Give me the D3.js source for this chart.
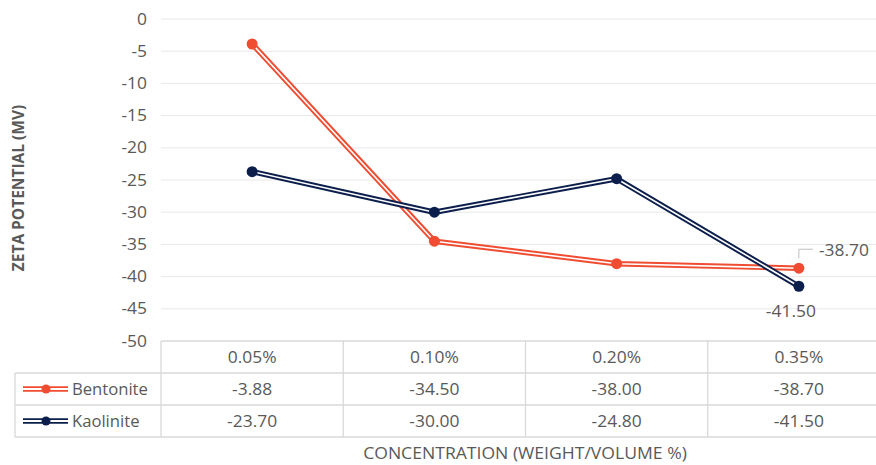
<!DOCTYPE html>
<html>
<head>
<meta charset="utf-8">
<script src="https://cdn.jsdelivr.net/npm/d3@7"></script>
<style>
  html, body { margin: 0; padding: 0; background: #fff; }
  svg { display: block; overflow: hidden; }
  text { font-family: "Open Sans", Lato, sans-serif; fill: #595959; }
</style>
</head>
<body>
<div id="chart"></div>
<script>
// Zeta potential by concentration
const categories = ["0.05%", "0.10%", "0.20%", "0.35%"];
const seriesNames = ["Bentonite", "Kaolinite"];
const bentonite = [-3.88, -34.50, -38.00, -38.70];
const kaolinite = [-23.70, -30.00, -24.80, -41.50];
const yTicks = [0, -5, -10, -15, -20, -25, -30, -35, -40, -45, -50];
const seriesColors = ["#EF4C32", "#0C1F4C"];

const W = 876, H = 465;
const plot = { left: 161, right: 890, top: 19, bottom: 341 };
const rowH = 32;
const FS = 16;   // label font size
const SX = 1.09; // slight horizontal widening of the label face

// plain hyphen-minus for negative numbers
const locale = d3.formatLocale({ decimal: ".", thousands: ",", grouping: [3], currency: ["", ""], minus: "-" });
const fmt2 = locale.format(".2f");
const fmtInt = locale.format("d");

// move x/y into a transform so the glyphs can be widened around their anchor
function widen(sel, sx) {
  sel.each(function () {
    const t = d3.select(this);
    const tx = +t.attr("x") || 0, ty = +t.attr("y") || 0;
    t.attr("x", 0).attr("y", 0).attr("transform", `translate(${tx},${ty}) scale(${sx},1)`);
  });
}

const svg = d3.select("#chart").append("svg")
  .attr("width", W).attr("height", H);

const x = d3.scaleBand().domain(categories).range([plot.left, plot.right]);
const y = d3.scaleLinear().domain([-50, 0]).range([plot.bottom, plot.top]);

// horizontal gridlines
svg.append("g").selectAll("line").data(yTicks.filter(d => d !== -50)).join("line")
  .attr("x1", plot.left).attr("x2", plot.right)
  .attr("y1", d => y(d)).attr("y2", d => y(d))
  .attr("stroke", "#e8e8e8").attr("stroke-width", 1);

// y axis tick labels
const yAxis = d3.axisLeft(y).tickValues(yTicks).tickSize(0).tickPadding(0).tickFormat(fmtInt);
const gy = svg.append("g").attr("transform", `translate(${plot.left - 14},0)`).call(yAxis);
gy.select(".domain").remove();
gy.selectAll("text").attr("font-size", FS).style("font-family", "'Open Sans', Lato, sans-serif")
  .attr("fill", "#595959").attr("transform", `scale(${SX},1)`);

// y axis title
svg.append("text")
  .attr("transform", `translate(24,${(plot.top + plot.bottom) / 2 + 8}) rotate(-90)`)
  .attr("text-anchor", "middle").attr("font-size", 15.5).attr("font-weight", "bold")
  .text("ZETA POTENTIAL (MV)");

// data table
const table = svg.append("g");
const tableLine = "#d9d9d9";
const legendLeft = 15;
const t0 = plot.bottom, t1 = t0 + rowH, t2 = t1 + rowH, t3 = t2 + rowH;
table.append("line").attr("x1", plot.left).attr("x2", plot.right).attr("y1", t0).attr("y2", t0);
[t1, t2, t3].forEach(v => table.append("line").attr("x1", legendLeft).attr("x2", plot.right).attr("y1", v).attr("y2", v));
table.append("line").attr("x1", legendLeft).attr("x2", legendLeft).attr("y1", t1).attr("y2", t3);
categories.forEach(c => table.append("line").attr("x1", x(c)).attr("x2", x(c)).attr("y1", t0).attr("y2", t3));
table.selectAll("line").attr("stroke", tableLine).attr("stroke-width", 1.3);

// header row
table.selectAll("text.cat").data(categories).join("text").attr("class", "cat")
  .attr("x", d => x(d) + x.bandwidth() / 2).attr("y", t0 + rowH / 2 + 6)
  .attr("text-anchor", "middle").attr("font-size", FS).text(d => d)
  .call(widen, SX);

const allSeries = [bentonite, kaolinite];
allSeries.forEach((vals, i) => {
  const rowTop = t1 + i * rowH;
  table.selectAll(`text.v${i}`).data(vals).join("text").attr("class", `v${i}`)
    .attr("x", (d, j) => x(categories[j]) + x.bandwidth() / 2).attr("y", rowTop + rowH / 2 + 6)
    .attr("text-anchor", "middle").attr("font-size", FS).text(d => fmt2(d))
    .call(widen, SX);
  // legend key: compound line with a dot
  const ky = rowTop + rowH / 2;
  table.append("line").attr("x1", 23).attr("x2", 68).attr("y1", ky).attr("y2", ky)
    .attr("stroke", seriesColors[i]).attr("stroke-width", 5.5);
  table.append("line").attr("x1", 23).attr("x2", 68).attr("y1", ky).attr("y2", ky)
    .attr("stroke", "#fff").attr("stroke-width", 1.8);
  table.append("circle").attr("cx", 46).attr("cy", ky).attr("r", 4.5).attr("fill", seriesColors[i]);
  table.append("text").attr("x", 72).attr("y", ky + 6).attr("font-size", FS).text(seriesNames[i])
    .call(widen, 1.04);
});

// x axis title
svg.append("text").attr("x", 525).attr("y", 459).attr("text-anchor", "middle")
  .attr("font-size", FS).text("CONCENTRATION (WEIGHT/VOLUME %)")
  .call(widen, 1.1);

// series lines (double compound line) and markers
const line = d3.line().x((d, j) => x(categories[j]) + x.bandwidth() / 2).y(d => y(d));
allSeries.forEach((vals, i) => {
  const g = svg.append("g");
  g.append("path").attr("d", line(vals)).attr("fill", "none")
    .attr("stroke", seriesColors[i]).attr("stroke-width", 5.5).attr("stroke-linejoin", "round");
  g.append("path").attr("d", line(vals)).attr("fill", "none")
    .attr("stroke", "#fff").attr("stroke-width", 1.6).attr("stroke-linejoin", "round");
  g.selectAll("circle").data(vals).join("circle")
    .attr("cx", (d, j) => x(categories[j]) + x.bandwidth() / 2).attr("cy", d => y(d))
    .attr("r", 5.5).attr("fill", seriesColors[i]);
});

// data labels on the last category
const lastCat = categories[categories.length - 1];
const cxLast = x(lastCat) + x.bandwidth() / 2;
const bLast = bentonite[bentonite.length - 1];
const kLast = kaolinite[kaolinite.length - 1];
svg.append("path")
  .attr("d", `M${cxLast},${y(bLast) - 10} V${y(bLast) - 19} H${cxLast + 14}`)
  .attr("fill", "none").attr("stroke", "#bfbfbf").attr("stroke-width", 1);
svg.append("text").attr("x", cxLast + 20).attr("y", y(bLast) - 12)
  .attr("font-size", FS).text(fmt2(bLast)).call(widen, SX);
svg.append("text").attr("x", cxLast - 8).attr("y", y(kLast) + 31).attr("text-anchor", "middle")
  .attr("font-size", FS).text(fmt2(kLast)).call(widen, SX);
</script>
</body>
</html>
